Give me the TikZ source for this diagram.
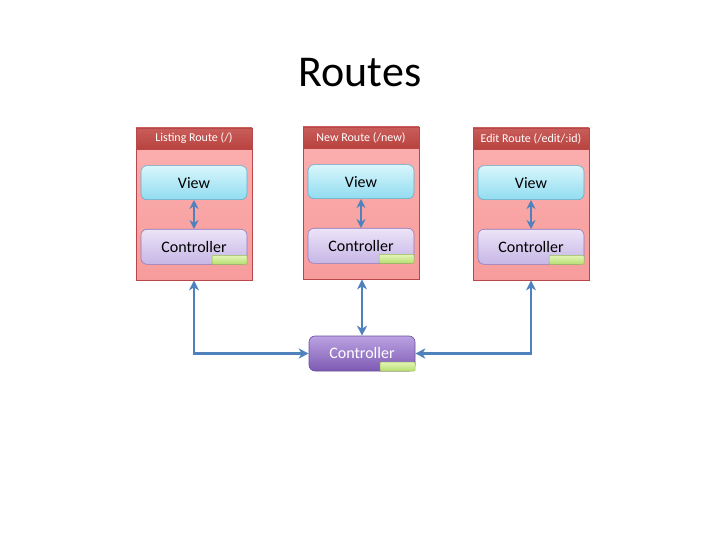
\documentclass[tikz,border=0pt]{standalone}
\usepackage{fontspec}
\setmainfont{Carlito}
\usetikzlibrary{arrows.meta,positioning}

\definecolor{routeline}{HTML}{B9474A}
\definecolor{routetop}{HTML}{FCB0B0}
\definecolor{routebot}{HTML}{F79C9C}
\definecolor{headtop}{HTML}{C95D5A}
\definecolor{headbot}{HTML}{B9433F}
\definecolor{viewtop}{HTML}{D9F6FC}
\definecolor{viewbot}{HTML}{90DCF0}
\definecolor{viewline}{HTML}{5DAFCB}
\definecolor{ctrltop}{HTML}{ECE4F8}
\definecolor{ctrlbot}{HTML}{C6B6E6}
\definecolor{ctrlline}{HTML}{8C7BBF}
\definecolor{maintop}{HTML}{BBA2E2}
\definecolor{mainbot}{HTML}{7D5AB3}
\definecolor{mainline}{HTML}{6A4E9E}
\definecolor{flagtop}{HTML}{E4F5B8}
\definecolor{flagbot}{HTML}{B6DE70}
\definecolor{flagline}{HTML}{98BB55}
\definecolor{linkblue}{HTML}{4F81BD}

\tikzset{
  route/.style={draw=routeline, line width=0.8bp, top color=routetop, bottom color=routebot,
    minimum width=116bp, minimum height=152bp, inner sep=0pt},
  head/.style={draw=routeline, line width=0.8bp, top color=headtop, bottom color=headbot,
    minimum width=116bp, minimum height=21bp, inner sep=0pt, text=white,
    font=\fontsize{12bp}{14bp}\selectfont},
  view/.style={draw=viewline, line width=0.6bp, rounded corners=6bp, top color=viewtop,
    bottom color=viewbot, minimum width=106bp, minimum height=34bp, inner sep=0pt,
    font=\fontsize{16bp}{19bp}\selectfont},
  ctrl/.style={draw=ctrlline, line width=0.6bp, rounded corners=6bp, top color=ctrltop,
    bottom color=ctrlbot, minimum width=106bp, minimum height=35bp, inner sep=0pt,
    font=\fontsize{16bp}{19bp}\selectfont},
  mainctrl/.style={ctrl, draw=mainline, top color=maintop, bottom color=mainbot, text=white},
  flag/.style={draw=flagline, line width=0.5bp, top color=flagtop, bottom color=flagbot,
    minimum width=35bp, minimum height=9bp, inner sep=0pt, rounded corners=1bp},
  link/.style={draw=linkblue, line width=2.8bp, {Stealth[length=10bp,width=10bp,inset=3bp]}-{Stealth[length=10bp,width=10bp,inset=3bp]}},
  shortlink/.style={link, {Stealth[length=9bp,width=9bp,inset=3bp]}-{Stealth[length=9bp,width=9bp,inset=3bp]}}
}

\begin{document}
\begin{tikzpicture}[x=1bp, y=-1bp]
    \useasboundingbox (0,0) rectangle (720,540);

    % Title
    \node (title) at (360,73) {\fontsize{44bp}{50bp}\selectfont Routes};

    % Routes
    \node (Lroute) [route] at (194,204) {};
    \node (Lhead) [head, below=0pt of Lroute.north] {Listing Route (/)};
    \node (Lview) [view, below=16bp of Lhead] {View};
    \node (Lctrl) [ctrl, below=29bp of Lview] {Controller};
    \node (Lflag) [flag, above left=0pt of Lctrl.south east] {};

    \node (Nroute) [route] at (361,203) {};
    \node (Nhead) [head, below=0pt of Nroute.north] {New Route (/new)};
    \node (Nview) [view, below=16bp of Nhead] {View};
    \node (Nctrl) [ctrl, below=29bp of Nview] {Controller};
    \node (Nflag) [flag, above left=0pt of Nctrl.south east] {};

    \node (Eroute) [route] at (531,204) {};
    \node (Ehead) [head, below=0pt of Eroute.north] {Edit Route (/edit/:id)};
    \node (Eview) [view, below=16bp of Ehead] {View};
    \node (Ectrl) [ctrl, below=29bp of Eview] {Controller};
    \node (Eflag) [flag, above left=0pt of Ectrl.south east] {};

    % Shared controller
    \node (C) [mainctrl] at (362,353.5) {Controller};
    \node (Cflag) [flag, above left=0pt of C.south east] {};

    % Arrows
    \draw[shortlink] (Lview) -- (Lctrl);
    \draw[shortlink] (Nview) -- (Nctrl);
    \draw[shortlink] (Eview) -- (Ectrl);
    \draw[link] (Lroute.south) |- (C.west);
    \draw[link] (Nroute.south -| C.north) -- (C.north);
    \draw[link] (Eroute.south) |- (C.east);
\end{tikzpicture}
\end{document}
